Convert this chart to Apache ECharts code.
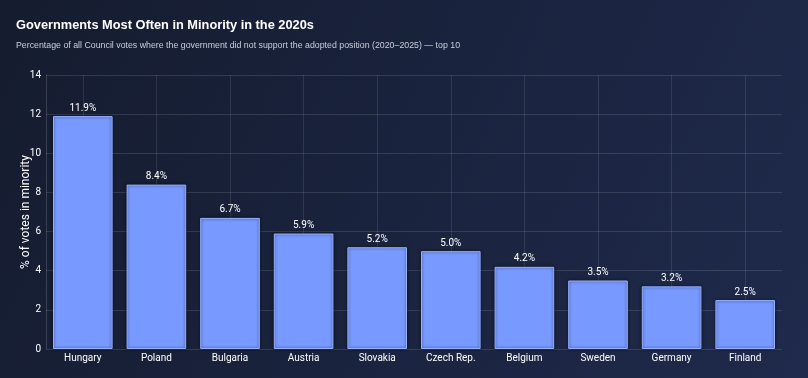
<!DOCTYPE html>
<html>
<head>
<meta charset="utf-8">
<style>
  html, body { margin: 0; padding: 0; }
  #chart { width: 808px; height: 378px; }
</style>
<script src="https://cdn.jsdelivr.net/npm/echarts@6/dist/echarts.min.js"></script>
</head>
<body>
<div id="chart"></div>
<script>
  // top 10 governments by share of votes in minority (2020-2025)
  var countries = ['Hungary', 'Poland', 'Bulgaria', 'Austria', 'Slovakia', 'Czech Rep.', 'Belgium', 'Sweden', 'Germany', 'Finland'];
  var minorityPct = [11.9, 8.4, 6.7, 5.9, 5.2, 5.0, 4.2, 3.5, 3.2, 2.5];

  var chart = echarts.init(document.getElementById('chart'));
  var font = 'Roboto, "Noto Sans", sans-serif';
  var titleFont = '"Liberation Sans", Arial, sans-serif';

  chart.setOption({
    animation: false,
    backgroundColor: new echarts.graphic.LinearGradient(0, 0, 1, 1, [
      { offset: 0, color: '#151c2f' },
      { offset: 1, color: '#1f2a4c' }
    ]),
    title: {
      text: 'Governments Most Often in Minority in the 2020s',
      subtext: 'Percentage of all Council votes where the government did not support the adopted position (2020\u20132025) \u2014 top 10',
      left: 11,
      top: 14,
      itemGap: 9,
      textStyle: { color: '#ffffff', fontSize: 12.8, fontWeight: 'bold', fontFamily: titleFont },
      subtextStyle: { color: '#c9cfdb', fontSize: 8.8, fontFamily: titleFont }
    },
    grid: { left: 46, right: 26, top: 75, bottom: 29 },
    xAxis: {
      type: 'category',
      data: countries,
      axisLine: { show: false },
      axisTick: { show: false },
      axisLabel: { color: '#ffffff', fontSize: 10, fontFamily: font, margin: 4 },
      splitLine: { show: true, alignWithLabel: true, lineStyle: { color: 'rgba(255,255,255,0.1)' } }
    },
    yAxis: {
      type: 'value',
      min: 0,
      max: 14,
      interval: 2,
      name: '% of votes in minority',
      nameLocation: 'middle',
      nameGap: 14,
      nameMoveOverlap: false,
      nameTextStyle: { color: '#ffffff', fontSize: 12, fontFamily: font },
      axisLine: { show: true, lineStyle: { color: 'rgba(255,255,255,0.15)' } },
      axisLabel: { color: '#ffffff', fontSize: 10, fontFamily: font, margin: 5 },
      splitLine: { lineStyle: { color: 'rgba(255,255,255,0.12)' } }
    },
    series: [{
      type: 'bar',
      data: minorityPct,
      barCategoryGap: '19%',
      itemStyle: {
        color: '#7899ff',
        borderColor: '#95b1ff',
        borderWidth: 1,
        shadowColor: 'rgba(0,0,0,0.6)',
        shadowBlur: 3
      },
      label: {
        show: true,
        position: 'top',
        distance: 3,
        color: '#ffffff',
        fontSize: 10,
        fontFamily: font,
        formatter: function (p) { return p.value.toFixed(1) + '%'; }
      }
    }]
  });
</script>
</body>
</html>
